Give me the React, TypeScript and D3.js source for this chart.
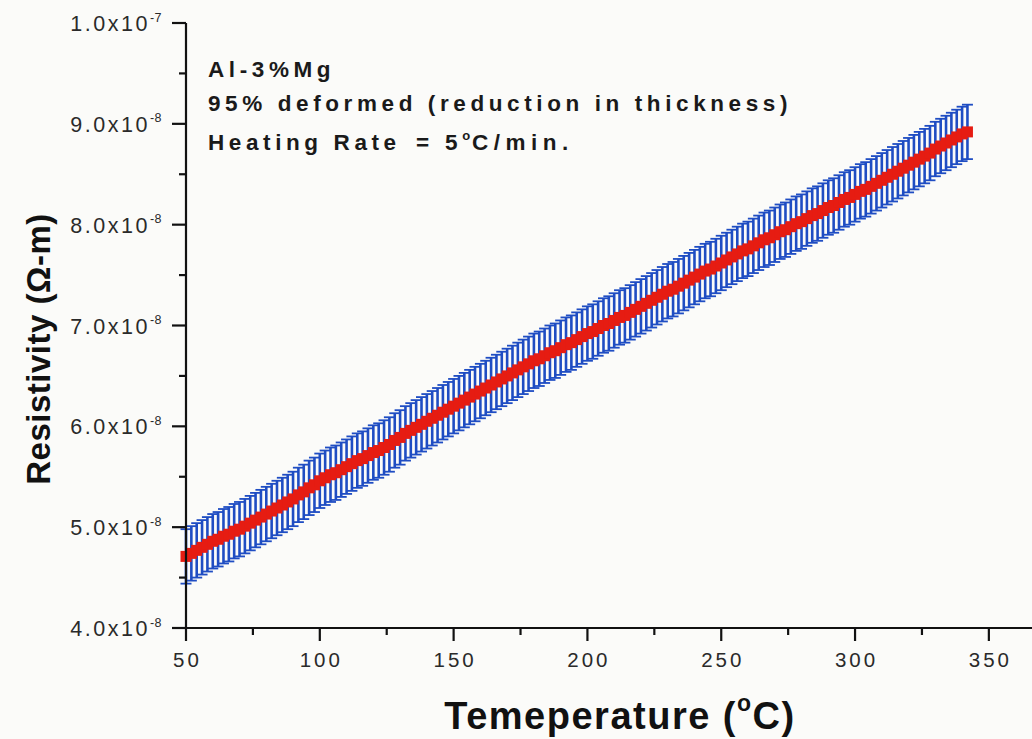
import React from 'react';
import * as d3 from 'd3';

// Temperature (°C)
const temperatures = [
  50, 52, 54, 56, 58, 60, 62, 64, 66, 68, 70, 72, 74, 76, 78, 80, 82, 84, 86, 88,
  90, 92, 94, 96, 98, 100, 102, 104, 106, 108, 110, 112, 114, 116, 118, 120, 122, 124, 126, 128,
  130, 132, 134, 136, 138, 140, 142, 144, 146, 148, 150, 152, 154, 156, 158, 160, 162, 164, 166, 168,
  170, 172, 174, 176, 178, 180, 182, 184, 186, 188, 190, 192, 194, 196, 198, 200, 202, 204, 206, 208,
  210, 212, 214, 216, 218, 220, 222, 224, 226, 228, 230, 232, 234, 236, 238, 240, 242, 244, 246, 248,
  250, 252, 254, 256, 258, 260, 262, 264, 266, 268, 270, 272, 274, 276, 278, 280, 282, 284, 286, 288,
  290, 292, 294, 296, 298, 300, 302, 304, 306, 308, 310, 312, 314, 316, 318, 320, 322, 324, 326, 328,
  330, 332, 334, 336, 338, 340, 342,
];

// Resistivity in units of 1e-8 Ω·m
const resistivity = [
  4.71, 4.74, 4.77, 4.80, 4.83, 4.86, 4.88, 4.91, 4.93, 4.96, 4.98, 5.01, 5.04, 5.07, 5.10, 5.13, 5.16, 5.19, 5.22, 5.25,
  5.28, 5.32, 5.35, 5.39, 5.42, 5.46, 5.49, 5.52, 5.54, 5.57, 5.60, 5.63, 5.66, 5.68, 5.71, 5.74, 5.76, 5.79, 5.82, 5.86,
  5.89, 5.93, 5.96, 5.99, 6.02, 6.05, 6.08, 6.11, 6.14, 6.17, 6.20, 6.23, 6.26, 6.29, 6.32, 6.35, 6.38, 6.41, 6.44, 6.47,
  6.50, 6.53, 6.56, 6.59, 6.62, 6.65, 6.67, 6.70, 6.73, 6.75, 6.78, 6.81, 6.83, 6.86, 6.89, 6.92, 6.94, 6.97, 7.00, 7.02,
  7.05, 7.08, 7.10, 7.13, 7.16, 7.19, 7.22, 7.25, 7.28, 7.31, 7.34, 7.36, 7.39, 7.42, 7.45, 7.48, 7.51, 7.54, 7.56, 7.59,
  7.62, 7.65, 7.68, 7.71, 7.74, 7.76, 7.79, 7.82, 7.85, 7.87, 7.90, 7.93, 7.95, 7.98, 8.01, 8.03, 8.06, 8.09, 8.11, 8.14,
  8.17, 8.19, 8.22, 8.25, 8.27, 8.30, 8.33, 8.35, 8.38, 8.41, 8.44, 8.47, 8.50, 8.53, 8.56, 8.59, 8.62, 8.65, 8.68, 8.71,
  8.75, 8.78, 8.81, 8.84, 8.87, 8.90, 8.92,
];

// Error (half-width) in units of 1e-8 Ω·m
const errorHalfWidth = 0.27;

const xTicks = [50, 100, 150, 200, 250, 300, 350];
const xMinorTicks = [75, 125, 175, 225, 275, 325];
const yTicks = [4, 5, 6, 7, 8, 9, 10];
const yTickMantissa = ['4.0x10', '5.0x10', '6.0x10', '7.0x10', '8.0x10', '9.0x10', '1.0x10'];
const yTickExponent = ['-8', '-8', '-8', '-8', '-8', '-8', '-7'];
const yMinorTicks = [4.5, 5.5, 6.5, 7.5, 8.5, 9.5];

const annotationLines = ['Al-3%Mg', '95% deformed (reduction in thickness)'];

const W = 1032;
const H = 739;
const FONT = "'Liberation Sans', Arial, Helvetica, sans-serif";

export default function App() {
  const x = d3.scaleLinear().domain([50, 365]).range([186, 1029]);
  const y = d3.scaleLinear().domain([4, 10]).range([628, 23]);
  const blue = '#1f4dc3';
  const red = '#e61c12';
  const sq = 11;
  const cap = 5.5;

  return (
    <svg
      width={W}
      height={H}
      viewBox={`0 0 ${W} ${H}`}
      style={{ position: 'absolute', left: 0, top: 0, background: '#fbfbf9' }}
    >
      <rect x={0} y={0} width={W} height={H} fill="#fbfbf9" />

      {/* Error bars */}
      <g stroke={blue} strokeWidth={2.6} fill="none">
        {temperatures.map((t, i) => {
          const cx = x(t);
          const top = y(resistivity[i] + errorHalfWidth);
          const bot = y(resistivity[i] - errorHalfWidth);
          return (
            <g key={i}>
              <line x1={cx} x2={cx} y1={top} y2={bot} />
              <line x1={cx - cap} x2={cx + cap} y1={top} y2={top} strokeWidth={1.8} />
              <line x1={cx - cap} x2={cx + cap} y1={bot} y2={bot} strokeWidth={1.8} />
            </g>
          );
        })}
      </g>

      {/* Data points */}
      <g fill={red}>
        {temperatures.map((t, i) => (
          <rect key={i} x={x(t) - sq / 2} y={y(resistivity[i]) - sq / 2} width={sq} height={sq} />
        ))}
      </g>

      {/* Axes */}
      <g stroke="#111" strokeWidth={2.2}>
        <line x1={x(50)} x2={x(50)} y1={y(10)} y2={y(4)} />
        <line x1={x(50)} x2={1032} y1={y(4)} y2={y(4)} />
        {xTicks.map((t) => (
          <line key={t} x1={x(t)} x2={x(t)} y1={y(4)} y2={y(4) + 13} />
        ))}
        {xMinorTicks.map((t) => (
          <line key={t} x1={x(t)} x2={x(t)} y1={y(4)} y2={y(4) + 7} />
        ))}
        {yTicks.map((v) => (
          <line key={v} x1={x(50) - 14} x2={x(50)} y1={y(v)} y2={y(v)} />
        ))}
        {yMinorTicks.map((v) => (
          <line key={v} x1={x(50) - 7} x2={x(50)} y1={y(v)} y2={y(v)} />
        ))}
      </g>

      {/* X tick labels */}
      <g fontFamily={FONT} fontSize={20.5} fill="#2a2a2a" textAnchor="middle">
        {xTicks.map((t) => (
          <text key={t} x={x(t) + 1.5} y={667} letterSpacing={3}>
            {t}
          </text>
        ))}
      </g>

      {/* Y tick labels */}
      <g fontFamily={FONT} fill="#2a2a2a" textAnchor="end">
        {yTicks.map((v, i) => (
          <text key={v} x={162} y={y(v) + 8} fontSize={21.5} letterSpacing={2.5}>
            {yTickMantissa[i]}
            <tspan fontSize={12.5} dy={-9.5} letterSpacing={0.5}>
              {yTickExponent[i]}
            </tspan>
          </text>
        ))}
      </g>

      {/* Annotation */}
      <g fontFamily={FONT} fontWeight="bold" fontSize={22.5} fill="#1a1a1a" letterSpacing={4.6}>
        <text x={208} y={77}>{annotationLines[0]}</text>
        <text x={208} y={111}>{annotationLines[1]}</text>
        <text x={208} y={150}>
          Heating Rate
          <tspan x={416}>=</tspan>
          <tspan x={445}>5</tspan>
          <tspan fontSize={13} dy={-10} letterSpacing={2}>o</tspan>
          <tspan dy={10} letterSpacing={5.5}>C/min.</tspan>
        </text>
      </g>

      {/* Axis titles */}
      <text
        x={620}
        y={729}
        textAnchor="middle"
        fontFamily={FONT}
        fontWeight="bold"
        fontSize={38}
        letterSpacing={1.5}
        fill="#111"
      >
        Temeperature (
        <tspan fontSize={23} dy={-18}>o</tspan>
        <tspan dy={18}>C)</tspan>
      </text>
      <text
        transform="translate(50,349) rotate(-90)"
        textAnchor="middle"
        fontFamily={FONT}
        fontWeight="bold"
        fontSize={33}
        letterSpacing={0.5}
        fill="#111"
      >
        Resistivity (Ω-m)
      </text>
    </svg>
  );
}
